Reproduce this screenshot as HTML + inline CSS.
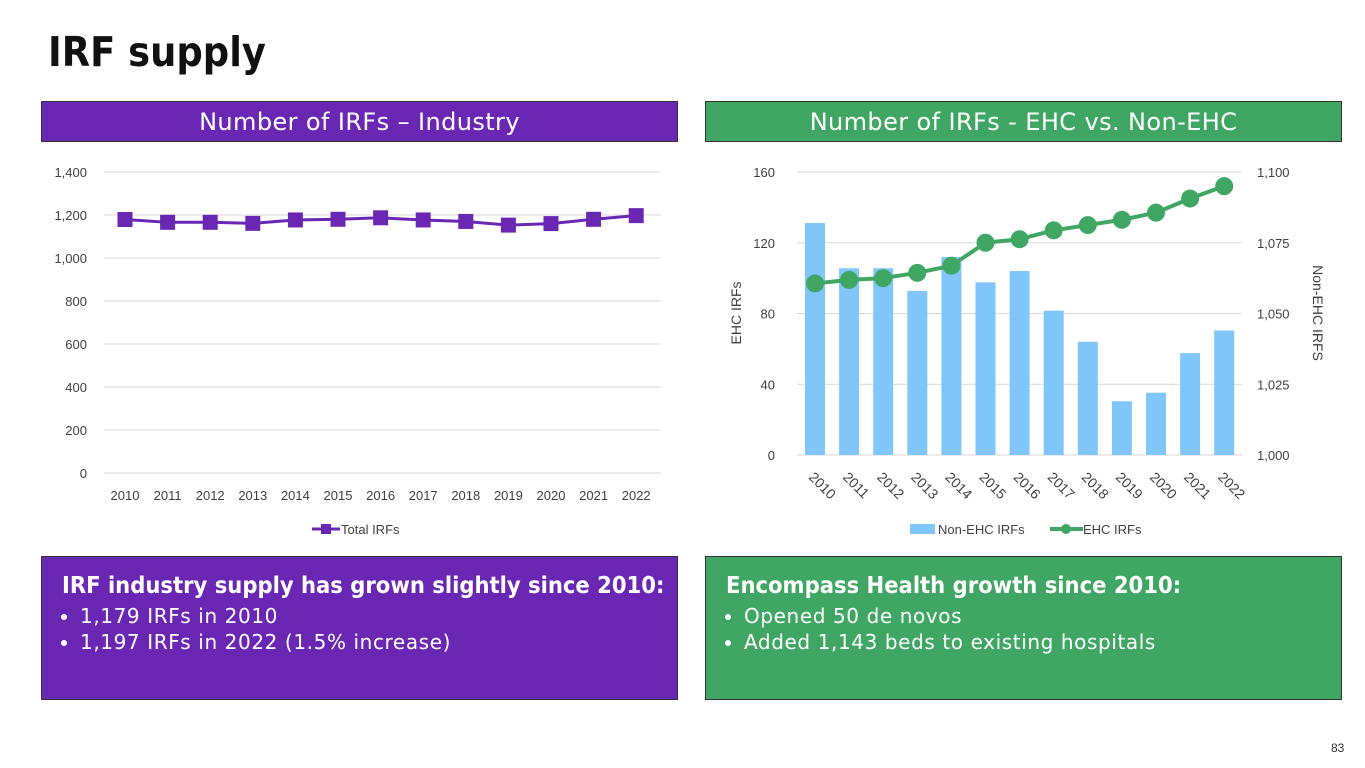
<!DOCTYPE html>
<html><head><meta charset="utf-8">
<style>
body{margin:0;width:1365px;height:768px;background:#fff;position:relative;overflow:hidden;font-family:"Liberation Sans",sans-serif;}
.abs{position:absolute}
.hdr{position:absolute;height:41px;top:101px;color:#fff;font-size:24px;letter-spacing:0.4px;line-height:41px;text-align:center;border:1px solid #333;box-sizing:border-box;font-family:"DejaVu Sans","Liberation Sans",sans-serif}
.box{position:absolute;top:556px;height:144px;border:1px solid #333;box-sizing:border-box;color:#fff;font-family:"DejaVu Sans","Liberation Sans",sans-serif}
.box h3{margin:14px 0 0 0;font-size:23.5px;font-weight:bold;font-family:"DejaVu Sans Condensed","Liberation Sans",sans-serif}
.box ul{margin:4px 0 0 0;padding-left:18px;font-size:20px;letter-spacing:0.6px;line-height:26px}
svg text{font-family:"Liberation Sans",sans-serif;fill:#404040}
</style></head><body>
<div class="abs" style="left:48px;top:28px;font-size:41px;font-weight:bold;color:#111;font-family:'DejaVu Sans Condensed','Liberation Sans',sans-serif">IRF supply</div>
<div class="hdr" style="left:41px;width:637px;background:#6a27b4">Number of IRFs – Industry</div>
<div class="hdr" style="left:705px;width:637px;background:#3fa663">Number of IRFs - EHC vs. Non-EHC</div>

<svg class="abs" style="left:0;top:0" width="1365" height="768">
<g id="left"></g>
<g id="right"></g>
</svg>

<div class="box" style="left:41px;width:637px;background:#6a27b4;padding-left:20px">
<h3>IRF industry supply has grown slightly since 2010:</h3>
<ul><li>1,179 IRFs in 2010</li><li>1,197 IRFs in 2022 (1.5% increase)</li></ul></div>
<div class="box" style="left:705px;width:637px;background:#3fa663;padding-left:20px">
<h3>Encompass Health growth since 2010:</h3>
<ul><li>Opened 50 de novos</li><li>Added 1,143 beds to existing hospitals</li></ul></div>
<div class="abs" style="left:1331px;top:741px;font-size:12px;color:#333">83</div>

<script>
const years=["2010","2011","2012","2013","2014","2015","2016","2017","2018","2019","2020","2021","2022"];
const totalIRFs=[1179,1166,1166,1161,1177,1180,1187,1177,1170,1153,1160,1180,1197];
const leftTicks=[0,200,400,600,800,1000,1200,1400];
const ehcIRFs=[97,99,100,103,107,120,122,127,130,133,137,145,152];
const nonEhcIRFs=[1082,1066,1066,1058,1070,1061,1065,1051,1040,1019,1022,1036,1044];
const ehcTicks=[0,40,80,120,160];
const nonEhcTicks=[1000,1025,1050,1075,1100];
const NS="http://www.w3.org/2000/svg";
function mk(parent,tag,attrs,txt){const e=document.createElementNS(NS,tag);for(const k in attrs)e.setAttribute(k,attrs[k]);if(txt!=null)e.textContent=txt;parent.appendChild(e);return e;}

// left chart
const L=document.getElementById('left');
const lx=i=>125+i*42.6, ly=v=>473-v*301/1400;
leftTicks.forEach(t=>{
  const g=mk(L,'line',{x1:104,x2:661,y1:ly(t),y2:ly(t),stroke:'#d9d9d9','stroke-width':1});
  
  
  const tx=mk(L,'text',{x:87,y:ly(t)+5,'text-anchor':'end','font-size':13},t.toLocaleString('en-US'));
  
  
});
years.forEach((y,i)=>{const t=mk(L,'text',{x:lx(i),y:500,'text-anchor':'middle','font-size':13},y);
  
  });
const lp=mk(L,'polyline',{points:totalIRFs.map((v,i)=>lx(i)+','+ly(v)).join(' '),fill:'none',stroke:'#6a27b4','stroke-width':3});


totalIRFs.forEach((v,i)=>{const r=mk(L,'rect',{x:lx(i)-7.5,y:ly(v)-7.5,width:15,height:15,fill:'#6a27b4'});
  
  });
const lg=mk(L,'g',{});


mk(lg,'line',{x1:312,x2:340,y1:529,y2:529,stroke:'#6a27b4','stroke-width':3});
mk(lg,'rect',{x:321,y:524,width:10,height:10,fill:'#6a27b4'});
mk(lg,'text',{x:341,y:534,'font-size':13},'Total IRFs');

// right chart
const R=document.getElementById('right');
const rx=i=>815+i*34.1, ryL=v=>455-v*283/160, ryR=v=>455-(v-1000)*283/100;
ehcTicks.forEach((t,k)=>{
  const g=mk(R,'line',{x1:797,x2:1242,y1:ryL(t),y2:ryL(t),stroke:'#d9d9d9','stroke-width':1});
  
  
  const tx=mk(R,'text',{x:775,y:ryL(t)+5,'text-anchor':'end','font-size':13},t);
  
  
});
nonEhcTicks.forEach(t=>{const tx=mk(R,'text',{x:1257,y:ryR(t)+5,'font-size':13},t.toLocaleString('en-US'));
  
  });
nonEhcIRFs.forEach((v,i)=>{const b=mk(R,'rect',{x:rx(i)-10,y:ryR(v),width:20,height:455-ryR(v),fill:'#80c6fb'});
  
  });
const rp=mk(R,'polyline',{points:ehcIRFs.map((v,i)=>rx(i)+','+ryL(v)).join(' '),fill:'none',stroke:'#3fa663','stroke-width':4});


ehcIRFs.forEach((v,i)=>{const c=mk(R,'circle',{cx:rx(i),cy:ryL(v),r:9,fill:'#3fa663'});
  
  });
years.forEach((y,i)=>{const t=mk(R,'text',{x:rx(i)-7,y:478,'font-size':14,transform:`rotate(45 ${rx(i)-7} 478)`},y);
  
  });
const yl=mk(R,'text',{x:741,y:313,'text-anchor':'middle','font-size':14,transform:'rotate(-90 741 313)'},'EHC IRFs');


const yr=mk(R,'text',{x:1313,y:313,'text-anchor':'middle','font-size':14,transform:'rotate(90 1313 313)'},'Non-EHC IRFS');


const rg=mk(R,'g',{});


mk(rg,'rect',{x:910,y:524,width:25,height:10,fill:'#80c6fb'});
mk(rg,'text',{x:938,y:534,'font-size':13},'Non-EHC IRFs');
mk(rg,'line',{x1:1050,x2:1083,y1:529,y2:529,stroke:'#3fa663','stroke-width':4});
mk(rg,'circle',{cx:1066,cy:529,r:5,fill:'#3fa663'});
mk(rg,'text',{x:1083,y:534,'font-size':13},'EHC IRFs');
</script>
</body></html>
